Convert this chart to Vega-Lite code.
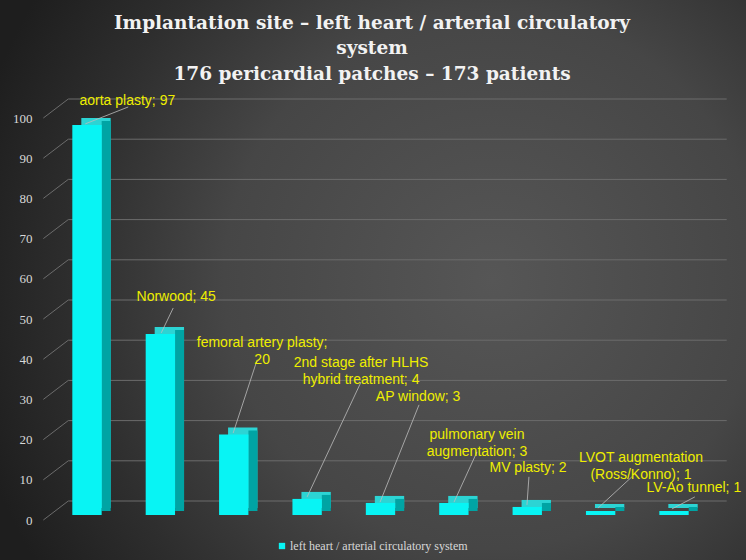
{
  "$schema": "https://vega.github.io/schema/vega-lite/v6.json",
  "width": 746,
  "height": 560,
  "autosize": {"type": "none"},
  "padding": 0,
  "background": "#2a2a2a",
  "view": {
    "stroke": null,
    "fill": {
      "gradient": "radial",
      "x1": 0.66, "y1": 0.5, "r1": 0,
      "x2": 0.66, "y2": 0.5, "r2": 0.72,
      "stops": [
        {"offset": 0, "color": "#565656"},
        {"offset": 0.5, "color": "#464646"},
        {"offset": 0.78, "color": "#2e2e2e"},
        {"offset": 1, "color": "#1e1e1e"}
      ]
    }
  },
  "title": {
    "text": ["Implantation site – left heart / arterial circulatory", "system", "176 pericardial patches – 173 patients"],
    "anchor": "middle",
    "frame": "group",
    "offset": -102,
    "baseline": "bottom",
    "dx": -1,
    "font": "DejaVu Serif",
    "fontSize": 18.5,
    "fontWeight": "bold",
    "color": "#f2f2f2",
    "lineHeight": 25.5
  },
  "datasets": {
    "bars": [
      {"category": "aorta plasty", "value": 97, "series": "left heart / arterial circulatory system"},
      {"category": "Norwood", "value": 45, "series": "left heart / arterial circulatory system"},
      {"category": "femoral artery plasty", "value": 20, "series": "left heart / arterial circulatory system"},
      {"category": "2nd stage after HLHS hybrid treatment", "value": 4, "series": "left heart / arterial circulatory system"},
      {"category": "AP window", "value": 3, "series": "left heart / arterial circulatory system"},
      {"category": "pulmonary vein augmentation", "value": 3, "series": "left heart / arterial circulatory system"},
      {"category": "MV plasty", "value": 2, "series": "left heart / arterial circulatory system"},
      {"category": "LVOT augmentation (Ross/Konno)", "value": 1, "series": "left heart / arterial circulatory system"},
      {"category": "LV-Ao tunnel", "value": 1, "series": "left heart / arterial circulatory system"}
    ],
    "grid": [
      {"v": 0}, {"v": 10}, {"v": 20}, {"v": 30}, {"v": 40}, {"v": 50},
      {"v": 60}, {"v": 70}, {"v": 80}, {"v": 90}, {"v": 100}
    ],
    "annotations": [
      {"label": "aorta plasty; 97", "lx": 1.05, "ly": 103.0, "ax": 1.062, "ay": 101.5, "bx": 0.477, "by": 97.3},
      {"label": "Norwood; 45", "lx": 1.716, "ly": 54.2, "ax": 1.675, "ay": 51.5, "bx": 1.512, "by": 45.3},
      {"label": "femoral artery plasty;\n20", "lx": 2.887, "ly": 42.9, "ax": 2.819, "ay": 38.6, "bx": 2.492, "by": 20.4},
      {"label": "2nd stage after HLHS\nhybrid treatment; 4", "lx": 4.235, "ly": 37.7, "ax": 4.235, "ay": 33.1, "bx": 3.5, "by": 4.5},
      {"label": "AP window; 3", "lx": 5.012, "ly": 29.4, "ax": 5.025, "ay": 27.4, "bx": 4.494, "by": 3.2},
      {"label": "pulmonary vein\naugmentation; 3", "lx": 5.815, "ly": 19.9, "ax": 5.815, "ay": 15.7, "bx": 5.502, "by": 3.2},
      {"label": "MV plasty; 2", "lx": 6.51, "ly": 11.7, "ax": 6.523, "ay": 9.5, "bx": 6.496, "by": 2.5},
      {"label": "LVOT augmentation\n(Ross/Konno); 1", "lx": 8.05, "ly": 14.3, "ax": 7.926, "ay": 9.5, "bx": 7.463, "by": 1.7},
      {"label": "LV-Ao tunnel; 1", "lx": 8.77, "ly": 6.7, "ax": 8.784, "ay": 4.5, "bx": 8.471, "by": 1.5}
    ]
  },
  "resolve": {"scale": {"x": "independent"}},
  "layer": [
    {
      "data": {"name": "grid"},
      "mark": {"type": "rule", "color": "#6c6c6c", "strokeWidth": 1, "xOffset": 18, "x2Offset": 16, "yOffset": -14, "y2Offset": -14},
      "encoding": {
        "x": {"datum": 0, "type": "quantitative", "scale": {"domain": [0, 9], "range": [50.3, 710.7]}, "axis": null},
        "x2": {"datum": 9},
        "y": {
          "field": "v", "type": "quantitative",
          "scale": {"domain": [0, 100], "range": [515, 113], "nice": false},
          "axis": {
            "values": [0, 10, 20, 30, 40, 50, 60, 70, 80, 90, 100],
            "orient": "left", "offset": -32, "labelPadding": 0,
            "ticks": false, "domain": false, "grid": false, "title": null,
            "labelFont": "Liberation Serif", "labelFontSize": 13, "labelColor": "#d8d8d8",
            "labelOffset": 5, "labelBaseline": "middle"
          }
        }
      }
    },
    {
      "data": {"name": "grid"},
      "mark": {"type": "rule", "color": "#6c6c6c", "strokeWidth": 1, "yOffset": 5, "y2Offset": -14},
      "encoding": {
        "x": {"datum": -0.095, "type": "quantitative", "scale": {"domain": [0, 9], "range": [50.3, 710.7]}, "axis": null},
        "x2": {"datum": 0.245},
        "y": {"field": "v", "type": "quantitative"},
        "y2": {"field": "v"}
      }
    },
    {
      "data": {"name": "bars"},
      "mark": {"type": "bar", "color": "#2cd4d4", "xOffset": 9, "x2Offset": 9, "yOffset": -7, "y2Offset": -7},
      "encoding": {
        "x": {"field": "category", "type": "nominal", "sort": null, "scale": {"range": [50.3, 710.7], "paddingInner": 0.6, "paddingOuter": 0.3}, "axis": null},
        "y": {"field": "value", "type": "quantitative"}
      }
    },
    {
      "data": {"name": "bars"},
      "mark": {"type": "bar", "color": "#00a4a4", "width": 9, "xOffset": 19.2, "yOffset": -4, "y2Offset": -4},
      "encoding": {
        "x": {"field": "category", "type": "nominal", "sort": null, "scale": {"range": [50.3, 710.7], "paddingInner": 0.6, "paddingOuter": 0.3}, "axis": null},
        "y": {"field": "value", "type": "quantitative"}
      }
    },
    {
      "data": {"name": "bars"},
      "mark": {"type": "bar"},
      "encoding": {
        "x": {"field": "category", "type": "nominal", "sort": null, "scale": {"range": [50.3, 710.7], "paddingInner": 0.6, "paddingOuter": 0.3}, "axis": null},
        "y": {"field": "value", "type": "quantitative"},
        "color": {
          "field": "series", "type": "nominal",
          "scale": {"range": ["#08f4f4"]},
          "legend": {
            "orient": "none", "legendX": 276, "legendY": 540, "direction": "horizontal",
            "title": null, "symbolType": "square", "symbolSize": 40, "symbolStrokeWidth": 0,
            "labelFont": "Liberation Serif", "labelFontSize": 12, "labelColor": "#d8d8d8", "labelOffset": 2,
            "labelLimit": 0
          }
        }
      }
    },
    {
      "data": {"name": "annotations"},
      "mark": {"type": "rule", "color": "#bdbdbd", "strokeWidth": 0.8},
      "encoding": {
        "x": {"field": "ax", "type": "quantitative", "scale": {"domain": [0, 9], "range": [50.3, 710.7]}, "axis": null},
        "x2": {"field": "bx"},
        "y": {"field": "ay", "type": "quantitative"},
        "y2": {"field": "by"}
      }
    },
    {
      "data": {"name": "annotations"},
      "mark": {"type": "text", "font": "Liberation Sans", "fontSize": 14, "color": "#eeee00", "lineBreak": "\n", "lineHeight": 17, "baseline": "middle", "align": "center"},
      "encoding": {
        "x": {"field": "lx", "type": "quantitative", "scale": {"domain": [0, 9], "range": [50.3, 710.7]}, "axis": null},
        "y": {"field": "ly", "type": "quantitative"},
        "text": {"field": "label", "type": "nominal"}
      }
    }
  ]
}
